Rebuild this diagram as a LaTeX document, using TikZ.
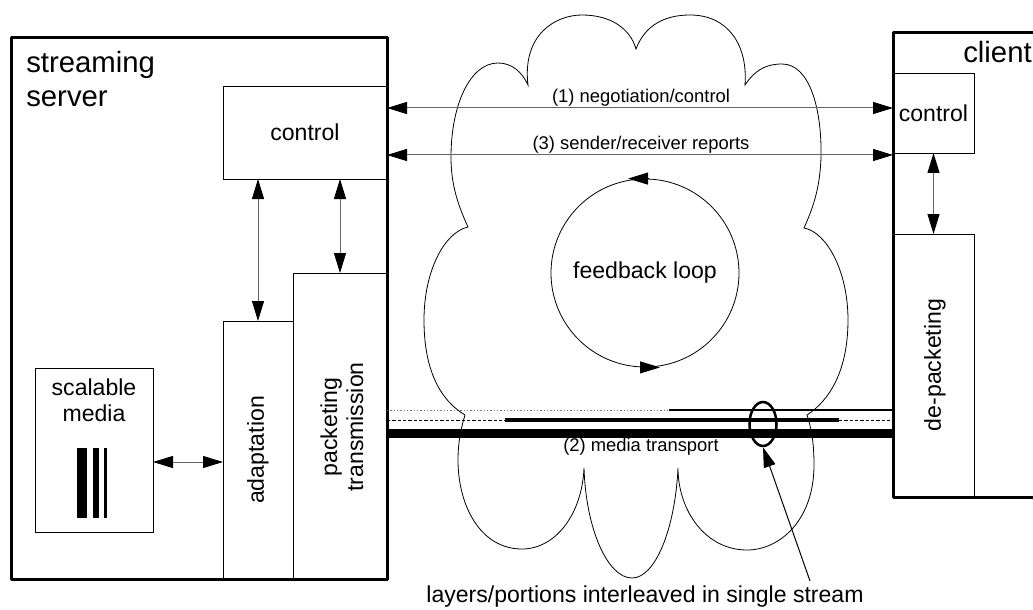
\documentclass[tikz,border=0pt]{standalone}
\usepackage{fontspec}
\setmainfont{Liberation Sans}
\usetikzlibrary{arrows.meta,shapes.geometric,calc}
\tikzset{
  bigbox/.style={draw, line width=2.25pt, line join=round, inner sep=0, outer sep=0},
  box/.style={draw, line width=0.7pt, inner sep=0, outer sep=0},
  lbl/.style={inner sep=0, font=\fontsize{17.3}{19.5}\selectfont, align=center},
  small/.style={inner sep=0, font=\fontsize{13.8}{16}\selectfont},
  head/.style={inner sep=0, font=\fontsize{22}{25}\selectfont},
  tipend/.style={-{Triangle[length=15pt,width=9pt,color=black]}},
  dbl/.style={{Triangle[length=15pt,width=9pt,color=black]}-{Triangle[length=15pt,width=9pt,color=black]}, draw=black!60, line width=0.75pt},
  cloudline/.style={draw, line width=0.6pt},
}
\begin{document}
\begin{tikzpicture}[x=0.75pt, y=-0.75pt]
\useasboundingbox (0,0) rectangle (1033,610);
\clip (0,0) rectangle (1033,610);

% cloud
\draw[cloudline]
 (528,85) .. controls (522,35) and (555,15) .. (582,15)
 .. controls (610,15) and (630,28) .. (636,49)
 .. controls (645,25) and (665,15) .. (690,15)
 .. controls (728,15) and (748,45) .. (745,85)
 .. controls (755,70) and (766,64) .. (782,64)
 .. controls (810,64) and (822,110) .. (821,157)
 .. controls (820,190) and (812,210) .. (804,228)
 .. controls (826,232) and (848,270) .. (848,320)
 .. controls (848,370) and (830,400) .. (807,415)
 .. controls (812,430) and (814,445) .. (814,465)
 .. controls (814,520) and (780,550) .. (747,550)
 .. controls (705,550) and (678,510) .. (678,468)
 .. controls (675,530) and (655,578) .. (632,578)
 .. controls (608,578) and (586,530) .. (584,468)
 .. controls (582,515) and (555,549) .. (522,549)
 .. controls (480,549) and (458,505) .. (458,460)
 .. controls (458,440) and (462,425) .. (465,415)
 .. controls (440,400) and (424,370) .. (424,320)
 .. controls (424,270) and (445,232) .. (468,227)
 .. controls (458,205) and (451,185) .. (451,157)
 .. controls (451,105) and (470,63) .. (498,63)
 .. controls (512,63) and (522,72) .. (528,85) -- cycle;

% server side
\node[bigbox, minimum width=282pt, minimum height=405.75pt] (server) at (199,308.5) {};
\node[head, anchor=base west] (st1) at (26,73) {streaming};
\node[head, anchor=base west] (st2) at (26,107) {server};
\node[box, lbl, minimum width=123pt, minimum height=69.75pt] (sctrl) at (305,132.5) {control};
\node[box, minimum width=70.5pt, minimum height=229.5pt] (packet) at (340,426) {};
\node[lbl, rotate=90] (packetl) at (342,427) {packeting\\transmission};
\node[box, minimum width=52.5pt, minimum height=193.5pt] (adapt) at (258,450) {};
\node[lbl, rotate=90] (adaptl) at (258,450) {adaptation};
\node[box, minimum width=88.5pt, minimum height=123pt] (scal) at (94,450) {};
\node[lbl] (scall) at (94,400) {scalable\\media};
\fill (77,448) rectangle (87,518);
\fill (93,448) rectangle (99,518);
\fill (104,448) rectangle (107,518);

% client side
\node[bigbox, minimum width=114pt, minimum height=348pt] (client) at (969,265) {};
\node[head, anchor=base west] (clientl) at (963,63) {client};
\node[box, lbl, minimum width=60.75pt, minimum height=60pt] (cctrl) at (933.5,113) {control};
\node[box, minimum width=60.75pt, minimum height=197.25pt] (depack) at (933.5,365.5) {};
\node[lbl, rotate=90] (depackl) at (935,365) {de-packeting};

% internal arrows
\draw[dbl] (adapt.north |- sctrl.south) -- (adapt.north);
\draw[dbl] (packet.north |- sctrl.south) -- (packet.north);
\draw[dbl] (cctrl.south) -- (depack.north);
\coordinate (ys) at (0,462);
\draw[dbl] (scal.east |- ys) -- (adapt.west |- ys);

% control arrows
\coordinate (y1) at (0,108);
\coordinate (y3) at (0,155);
\draw[dbl] (sctrl.east |- y1) -- (cctrl.west |- y1);
\draw[dbl] (sctrl.east |- y3) -- (cctrl.west |- y3);
\node[small] (l1) at (641,98) {(1) negotiation/control};
\node[small] (l3) at (641,145) {(3) sender/receiver reports};

% feedback loop
\node[circle, draw, line width=0.6pt, minimum size=141pt, lbl] (fb) at (645,273) {feedback loop};
\draw[tipend, line width=0.6pt] ($(fb.north)+(3,0)$) -- ($(fb.north)+(-17,0)$);
\draw[tipend, line width=0.6pt] ($(fb.south)+(-5,0)$) -- ($(fb.south)+(15,0)$);

% media transport
\coordinate (yt) at (0,410);
\coordinate (ym) at (0,420);
\coordinate (yb) at (0,433);
\coordinate (tj) at (669,410);
\coordinate (m1) at (505,420);
\coordinate (m2) at (839,420);
\draw[black!55, line width=0.7pt, dash pattern=on 1pt off 1.5pt] (packet.east |- yt) -- (tj);
\draw[line width=1.5pt] (tj) -- (depack.west |- yt);
\draw[line width=0.7pt, dash pattern=on 2.5pt off 1.5pt] (packet.east |- ym) -- (m1);
\draw[line width=3pt] (m1) -- (m2);
\draw[line width=0.7pt, dash pattern=on 2.5pt off 1.5pt] (m2) -- (depack.west |- ym);
\draw[line width=6.75pt] (packet.east |- yb) -- (depack.west |- yb);
\node[small] (l2) at (641,447) {(2) media transport};

% interleaving pointer
\node[ellipse, draw, line width=1.9pt, minimum width=20.25pt, minimum height=33pt, inner sep=0] (ell) at (763,424) {};
\coordinate (ptr) at (810,581);
\draw[tipend, line width=0.75pt] (ptr) -- (ell.south);
\node[lbl] (layers) at (645,597) {layers/portions interleaved in single stream};
\end{tikzpicture}
\end{document}
